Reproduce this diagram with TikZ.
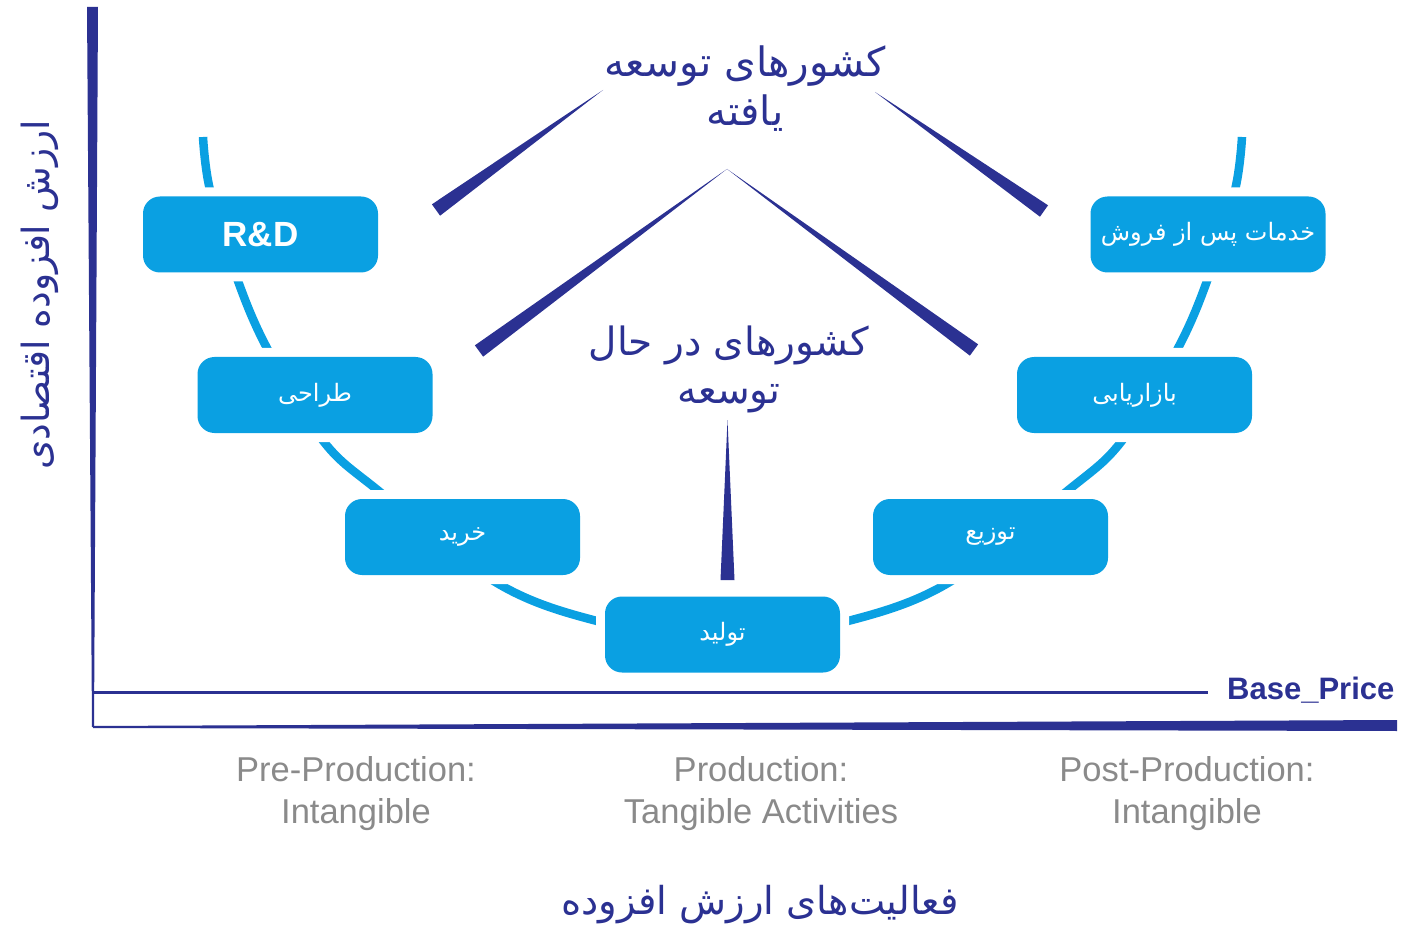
\documentclass[tikz,border=0pt]{standalone}
\usepackage{fontspec}
\setmainfont{Liberation Sans}
\newfontfamily\fa[Script=Arabic]{DejaVu Sans}
\TeXXeTstate=1
\usetikzlibrary{calc}
\definecolor{navy}{RGB}{43,49,146}
\definecolor{sky}{RGB}{10,160,226}
\definecolor{greytxt}{RGB}{138,138,138}
\tikzset{
  stage/.style={fill=sky, rounded corners=17pt, minimum width=235pt, minimum height=76pt,
    inner sep=0pt, text=white, font=\fa\fontsize{24}{28}\selectfont,
    preaction={draw=white, line width=18pt}},
  curveline/.style={draw=sky, line width=8.5pt},
  wedge/.style={fill=navy},
  title/.style={text=navy, align=center, inner sep=0pt},
  phase/.style={text=greytxt, align=center, font=\fontsize{34.5}{42}\selectfont, inner sep=0pt},
  axislabel/.style={text=navy, inner sep=0pt}
}
\begin{document}
\begin{tikzpicture}[x=1pt, y=-1pt]
\useasboundingbox (0,0) rectangle (1401,933);
% axes
\fill[navy] (87,7) -- (98,7) -- (94,727) -- (92,727) -- cycle;
\fill[navy] (93,726) -- (1397,720) -- (1397,731) -- (93,728) -- cycle;
\coordinate (bpl) at (93,692.5);
\coordinate (bpr) at (1208,692.5);
\draw[navy, line width=3.5pt] (bpl) -- (bpr);
\node[anchor=west, text=navy, font=\bfseries\fontsize{31}{36}\selectfont, inner sep=0pt] (bp) at (1227,690) {Base\_Price};
% smile curve
\draw[curveline] plot[smooth, tension=0.55] coordinates {
 (203,137) (210,190) (238,281) (268,350) (324,442) (380,492) (497,583) (597,621) (722.5,642)
 (848,621) (948,583) (1066,492) (1121,442) (1177,350) (1207,281) (1235,190) (1242,137)};
% stages
\node[stage, font=\bfseries\fontsize{35}{40}\selectfont] (rd) at (260.5,234.5) {R\&D};
\node[stage] (design) at (315,395) {\beginR طراحی\endR};
\node[stage] (buy) at (462.5,537) {\beginR خرید\endR};
\node[stage] (prod) at (722.5,634.5) {\beginR تولید\endR};
\node[stage] (dist) at (990.5,537) {\beginR توزیع\endR};
\node[stage] (mkt) at (1134.5,395) {\beginR بازاریابی\endR};
\node[stage] (after) at (1208,234.5) {\beginR خدمات پس از فروش\endR};
% titles
\node[title, font=\fa\fontsize{40.5}{49}\selectfont] (developed) at (745,89) {\beginR کشورهای  توسعه\endR\\\beginR یافته\endR};
\node[title, font=\fa\fontsize{39}{48}\selectfont] (developing) at (729,369) {\beginR کشورهای در حال\endR\\\beginR توسعه\endR};
% wedges
\coordinate (dlt) at (603,90);  \coordinate (dlb) at (436,210);
\coordinate (drt) at (875,92);  \coordinate (drb) at (1044,211);
\coordinate (apex) at (727,169);
\coordinate (gl) at (479,351);  \coordinate (gr) at (974,350);
\coordinate (vt) at (727.5,420); \coordinate (vb) at (727.5,580);
\fill[wedge] (dlt) -- ($(dlb)!7pt!90:(dlt)$) -- ($(dlb)!7pt!-90:(dlt)$) -- cycle;
\fill[wedge] (drt) -- ($(drb)!7pt!90:(drt)$) -- ($(drb)!7pt!-90:(drt)$) -- cycle;
\fill[wedge] (apex) -- ($(gl)!7pt!90:(apex)$) -- ($(gl)!7pt!-90:(apex)$) -- cycle;
\fill[wedge] (apex) -- ($(gr)!7pt!90:(apex)$) -- ($(gr)!7pt!-90:(apex)$) -- cycle;
\fill[wedge] (vt) -- ($(vb)!7pt!90:(vt)$) -- ($(vb)!7pt!-90:(vt)$) -- cycle;
% phases
\node[phase] (pre) at (356,794) {Pre-Production:\\Intangible};
\node[phase] (mid) at (761,794) {Production:\\Tangible Activities};
\node[phase] (post) at (1187,794) {Post-Production:\\Intangible};
% axis labels
\node[axislabel, rotate=90, font=\fa\fontsize{37.5}{44}\selectfont] (ylab) at (40,295) {\beginR ارزش افزوده اقتصادی\endR};
\node[axislabel, font=\fa\fontsize{38.5}{44}\selectfont] (xlab) at (760,905) {\beginR فعالیت‌های ارزش افزوده\endR};
\end{tikzpicture}
\end{document}
